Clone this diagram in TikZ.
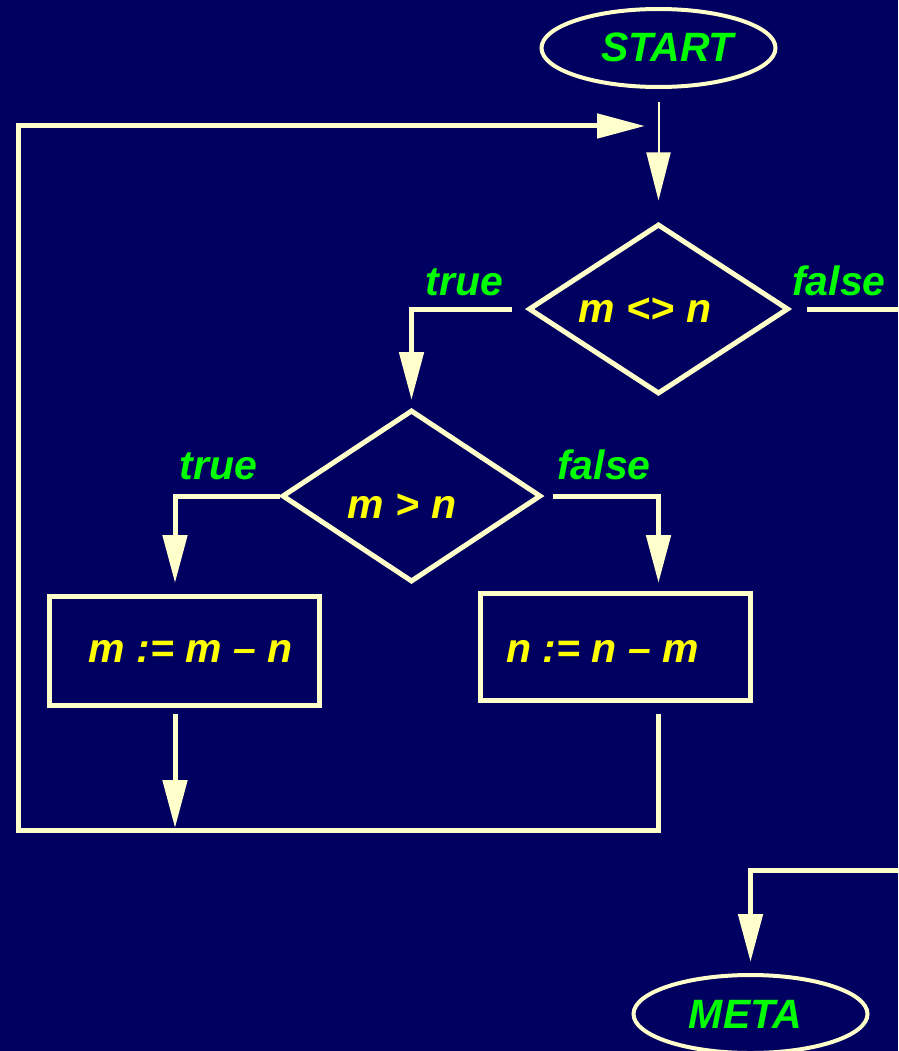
\documentclass[tikz,border=0pt]{standalone}
\usepackage{fontspec}
\setmainfont{Liberation Sans}
\usetikzlibrary{shapes.geometric,arrows.meta}
\definecolor{bg}{RGB}{0,0,96}
\definecolor{cream}{RGB}{255,255,204}
\definecolor{lgreen}{RGB}{0,255,0}
\definecolor{lyellow}{RGB}{255,255,0}
\tikzset{
  ln/.style={draw=cream,line width=5pt},
  arr/.style={ln,-{Triangle[length=48pt,width=24pt]}},
  bigfont/.style={font=\fontsize{41}{49}\selectfont\bfseries\itshape},
  term/.style={ellipse,draw=cream,line width=4pt,minimum width=234pt,minimum height=78pt,inner sep=0pt},
  decision/.style={diamond,draw=cream,line width=5pt,inner sep=0pt},
  procbox/.style={rectangle,draw=cream,line width=5pt,inner sep=0pt},
  txt/.style={bigfont,text=lyellow,inner sep=0pt,anchor=base},
  lbl/.style={bigfont,text=lgreen,inner sep=0pt,anchor=base}
}
\begin{document}
\begin{tikzpicture}[x=1pt,y=-1pt]
\fill[bg] (0,0) rectangle (898,1051);
\useasboundingbox (0,0) rectangle (898,1051);
\clip (0,0) rectangle (898,1051);
% nodes
\node[term] (start) at (658.5,48) {};
\node[lbl] (starttxt) at (667.5,62) {START};
\node[decision,minimum width=260pt,minimum height=170pt] (d1) at (658.5,309) {};
\node[txt] (d1txt) at (645,322) {m <> n};
\node[lbl] (t1) at (464.5,295) {true};
\node[lbl] (f1) at (839,295) {false};
\node[decision,minimum width=259pt,minimum height=172pt] (d2) at (411.5,496) {};
\node[txt] (d2txt) at (402,518) {m > n};
\node[lbl] (t2) at (218.5,479) {true};
\node[lbl] (f2) at (604,479) {false};
\node[procbox,minimum width=270pt,minimum height=109pt] (b1) at (184.5,650.5) {};
\node[txt] (b1txt) at (190.5,662) {m := m – n};
\node[procbox,minimum width=270pt,minimum height=107pt] (b2) at (615.5,647) {};
\node[txt] (b2txt) at (602.5,662) {n := n – m};
\node[term] (meta) at (750.5,1014) {};
\node[lbl] (metatxt) at (745.5,1028) {META};
% coordinates
\coordinate (b1o) at (175,714);
\coordinate (b1t) at (175,828);
\coordinate (b2o) at (658.5,714);
\coordinate (lc) at (18.5,830);
\coordinate (jn) at (645,126);
\coordinate (d2in) at (411.5,400);
\coordinate (b1in) at (175,583);
\coordinate (b2in) at (658.5,583);
\coordinate (rx) at (915,870);
\coordinate (metain) at (750.5,962);
% connectors
\draw[arr,line width=2pt,shorten <=13pt,shorten >=21pt] (start) -- (d1);
\draw[arr] (b2o) |- (lc) |- (jn);
\draw[arr] (b1o) -- (b1t);
\draw[arr] ([xshift=-14pt]d1.west) -| (d2in);
\draw[arr] ([xshift=16pt]d1.east) -| (rx) -| (metain);
\draw[arr] (d2.west) -| (b1in);
\draw[arr] ([xshift=9pt]d2.east) -| (b2in);
\end{tikzpicture}
\end{document}
